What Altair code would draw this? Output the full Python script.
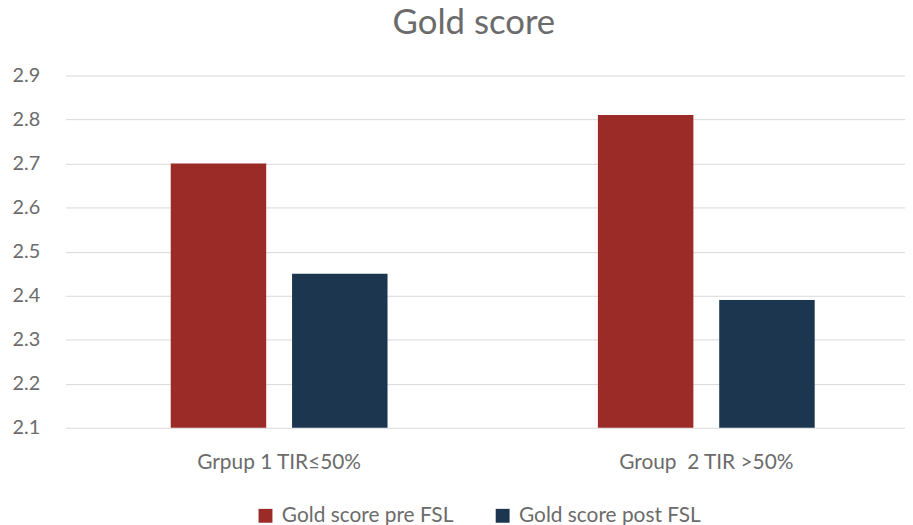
import altair as alt
import pandas as pd

groups = ["Grpup 1 TIR≤50%", "Group\u00a0 2 TIR >50%"]
series = ["Gold score pre FSL", "Gold score post FSL"]
pre_values = [2.70, 2.81]
post_values = [2.45, 2.39]
y_ticks = [2.1, 2.2, 2.3, 2.4, 2.5, 2.6, 2.7, 2.8, 2.9]
colors = ["#9B2B27", "#1D3650"]

rows = []
for g, a, b in zip(groups, pre_values, post_values):
    rows.append({"group": g, "series": series[0], "value": a})
    rows.append({"group": g, "series": series[1], "value": b})
df = pd.DataFrame(rows)

FONT = "Lato"
GRAY = "#6b6b6b"

chart = alt.Chart(df).mark_bar().encode(
    x=alt.X("group:N", sort=groups, title=None,
            scale=alt.Scale(range=[3, 864], paddingInner=0, paddingOuter=0),
            axis=alt.Axis(labelAngle=0, domain=False, ticks=False, labelFontSize=21,
                          labelColor=GRAY, labelFont=FONT, labelPadding=24,
                          labelLimit=400)),
    xOffset=alt.XOffset("series:N", sort=series,
                        scale=alt.Scale(paddingInner=0.213, paddingOuter=0.867)),
    y=alt.Y("value:Q", title=None,
            scale=alt.Scale(domain=[2.1, 2.9], nice=False, zero=False),
            axis=alt.Axis(values=y_ticks, format=".1f", domain=False, ticks=False,
                          labelFontSize=20, labelColor=GRAY, labelFont=FONT,
                          labelPadding=23, gridColor="#d9d9d9", gridWidth=1)),
    y2=alt.datum(2.1),
    color=alt.Color("series:N", sort=series,
                    scale=alt.Scale(domain=series, range=colors),
                    legend=alt.Legend(title=None, orient="none", direction="horizontal",
                                      legendX=194, legendY=433, symbolType="square",
                                      symbolSize=196, symbolStrokeWidth=0,
                                      labelFontSize=21, labelColor=GRAY, labelFont=FONT,
                                      labelLimit=400, columnPadding=39, labelOffset=6)),
).properties(
    width=849,
    height=355,
    padding={"left": 55, "top": 66, "right": 0, "bottom": 96},
    autosize=alt.AutoSizeParams(type="none"),
    title=alt.TitleParams("Gold score", fontSize=35, font=FONT, color=GRAY,
                          fontWeight="normal", anchor="middle", frame="group",
                          dx=-10, offset=25),
).configure_view(stroke=None)

chart.save("out.html", embed_options={"renderer": "svg", "actions": False})
